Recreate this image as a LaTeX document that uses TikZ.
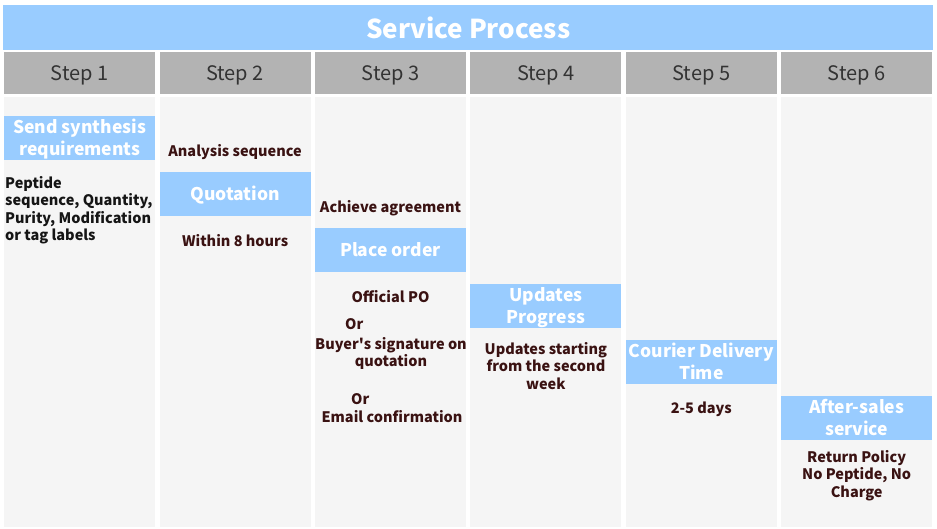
\documentclass[tikz,border=0pt]{standalone}
\usepackage{fontspec}
\setmainfont{Noto Sans CJK SC}
\usepackage{xcolor}
\usepackage{tikz}
\usetikzlibrary{positioning}
\definecolor{skyband}{HTML}{99CCFF}
\definecolor{stepgrey}{HTML}{B3B3B3}
\definecolor{colpale}{HTML}{F5F5F5}
\definecolor{stepink}{HTML}{333333}
\definecolor{noteink}{HTML}{3A1212}
\definecolor{leadink}{HTML}{151515}
\tikzset{
  sband/.style={fill=skyband, text=white, minimum width=930pt, minimum height=45pt, inner sep=0pt, font=\bfseries\fontsize{26}{30}\selectfont},
  shead/.style={fill=stepgrey, text=stepink, minimum width=151pt, minimum height=42pt, inner sep=0pt, text height=14.7pt, text depth=0pt, font=\fontsize{20}{24}\selectfont},
  scol/.style={fill=colpale, minimum width=151pt, minimum height=430pt, inner sep=0pt},
  sbox/.style={fill=skyband, text=white, minimum width=151pt, minimum height=44pt, inner sep=0pt, align=center, text depth=0pt, font=\bfseries\fontsize{17.5}{22}\selectfont},
  snote/.style={text=noteink, align=center, inner sep=0pt, font=\bfseries\fontsize{14.5}{17.3}\selectfont},
  snotelead/.style={snote, text=leadink, align=left},
}

\begin{document}
\begin{tikzpicture}[x=1pt, y=-1pt, node distance=16pt]
  \useasboundingbox (0,0) rectangle (937,529);
  \node[sband, anchor=north west] (title) at (3,5) {Service Process};
  \foreach \i in {1,...,6} {
    \node[shead, anchor=north west] (step\i) at ({4+155.4*(\i-1)},52) {Step \i};
    \node[scol, anchor=north west] (col\i) at ({4+155.4*(\i-1)},97) {};
  }
  \foreach \i/\n/\txt in {1/2/{Send synthesis\\requirements}, 2/1/Quotation, 3/1/Place order, 4/2/{Updates\\Progress}, 5/2/{Courier Delivery\\Time}, 6/2/{After-sales\\service}} {
    \pgfmathsetmacro\capsh{12.8+22*(\n-1)}
    \node[sbox, text height=\capsh pt, anchor=north west] (box\i) at ({4+155.4*(\i-1)},{116+56*(\i-1)}) {\txt};
  }
  \node[snotelead, below=16pt of box1.south west, anchor=north west, xshift=1pt] (needs) {Peptide\\sequence, Quantity,\\Purity, Modification\\or tag labels};
  \node[snote, above=12pt of box2] (analysis) {Analysis sequence};
  \node[snote, below=18pt of box2] (hours) {Within 8 hours};
  \node[snote, above=12pt of box3] (agree) {Achieve agreement};
  \node[snote, below=18pt of box3] (po) {Official PO};
  \node[snote, anchor=base west] (or1) at (345,330) {Or};
  \node[snote, anchor=north] (signature) at (391,337) {Buyer\textquotesingle s signature on\\quotation};
  \node[snote, anchor=base west] (or2) at (351,404) {Or};
  \node[snote, anchor=base] (email) at (392,422) {Email confirmation};
  \node[snote, below=14pt of box4] (weekly) {Updates starting\\from the second\\week};
  \node[snote, below=17pt of box5] (days) {2-5 days};
  \node[snote, below=10pt of box6] (policy) {Return Policy\\No Peptide, No\\Charge};
\end{tikzpicture}
\end{document}
